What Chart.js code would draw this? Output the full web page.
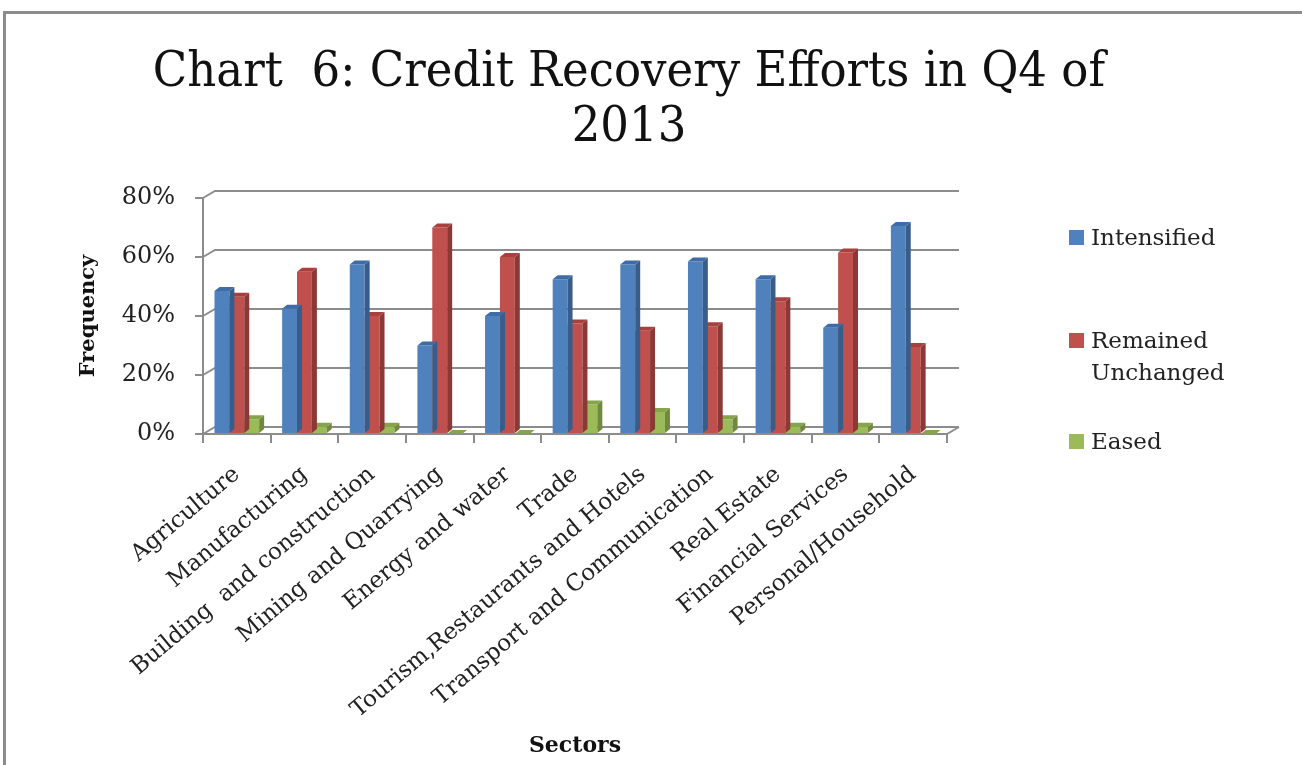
<!DOCTYPE html>
<html>
<head>
<meta charset="utf-8">
<script src="https://cdn.jsdelivr.net/npm/chart.js@4/dist/chart.umd.min.js"></script>
<style>
body { margin: 0; background: #fff; }
#wrap { position: relative; width: 1302px; height: 765px; overflow: hidden; }
#frame { position: absolute; left: 3px; top: 11px; width: 1400px; height: 900px;
  border-top: 3px solid #8c8c8c; border-left: 3px solid #8c8c8c; }
#myChart { position: absolute; left: 0; top: 0; }
#title { position: absolute; left: 629px; top: 42px; white-space: nowrap; text-align: center;
  font-family: "DejaVu Serif", serif; font-size: 48px; line-height: 55px; color: #111; }
.leg { position: absolute; left: 1069px; font-family: "DejaVu Serif", serif; font-size: 23px; color: #222; line-height: 32px; }
.leg span { display: inline-block; width: 15px; height: 15px; margin-right: 7px; vertical-align: 0px; }
</style>
</head>
<body>
<div id="wrap">
  <div id="frame"></div>
  <canvas id="myChart" width="1302" height="765"></canvas>
  <div id="title"><span id="t1">Chart&nbsp; 6: Credit Recovery Efforts in Q4 of</span><br>2013</div>
  <div class="leg" style="top:221px"><span style="background:#4F81BD"></span>Intensified</div>
  <div class="leg" style="top:324px"><span style="background:#C0504D"></span>Remained<br><span style="background:none"></span>Unchanged</div>
  <div class="leg" style="top:425px"><span style="background:#9BBB59"></span>Eased</div>
</div>
<script>
const sectors = [
  'Agriculture',
  'Manufacturing',
  'Building  and construction',
  'Mining and Quarrying',
  'Energy and water',
  'Trade',
  'Tourism,Restaurants and Hotels',
  'Transport and Communication',
  'Real Estate',
  'Financial Services',
  'Personal/Household'
];
const intensified = [48.5, 42.5, 57.5, 30, 40, 52.5, 57.5, 58.5, 52.5, 36, 70.5];
const unchanged = [46.5, 55, 40, 70, 60, 37.5, 35, 36.5, 45, 61.5, 29.5];
const eased = [5, 2.5, 2.5, 0, 0, 10, 7.5, 5, 2.5, 2.5, 0];
const yTicks = [0, 20, 40, 60, 80];

// squeeze the title a bit, the original font is narrower
var t1 = document.getElementById('t1');
var s = 952 / t1.offsetWidth;
document.getElementById('title').style.transform = 'translateX(-50%) scaleX(' + s + ')';

// darker faces for the fake 3d look
const sideColors = ['#385D8A', '#8C3836', '#71893F'];
const topColors = ['#3E6CA6', '#A8413E', '#86A44A'];
const wallDx = 12, wallDy = 7;

const backWall = {
  id: 'backWall',
  beforeDatasetsDraw(chart) {
    const ctx = chart.ctx;
    const a = chart.chartArea;
    const y = chart.scales.y;
    ctx.save();
    ctx.strokeStyle = '#8c8c8c';
    ctx.lineWidth = 2;
    y.ticks.forEach(function(t) {
      const py = y.getPixelForValue(t.value);
      ctx.beginPath();
      ctx.moveTo(a.left, py);
      ctx.lineTo(a.left + wallDx, py - wallDy);
      ctx.lineTo(a.right + wallDx, py - wallDy);
      ctx.stroke();
    });
    ctx.beginPath();
    ctx.moveTo(a.right, a.bottom);
    ctx.lineTo(a.right + wallDx, a.bottom - wallDy);
    ctx.stroke();
    ctx.restore();
  }
};

const bars3d = {
  id: 'bars3d',
  afterDatasetDraw(chart, args) {
    const ctx = chart.ctx;
    const meta = args.meta;
    const i = args.index;
    const dx = 5, dy = 4;
    ctx.save();
    meta.data.forEach(function(bar) {
      const p = bar.getProps(['x', 'y', 'base', 'width'], true);
      const r = p.x + p.width / 2, l = p.x - p.width / 2;
      ctx.fillStyle = sideColors[i];
      ctx.beginPath();
      ctx.moveTo(r, p.y);
      ctx.lineTo(r + dx, p.y - dy);
      ctx.lineTo(r + dx, p.base - dy);
      ctx.lineTo(r, p.base);
      ctx.closePath();
      ctx.fill();
      ctx.fillStyle = topColors[i];
      ctx.beginPath();
      ctx.moveTo(l, p.y);
      ctx.lineTo(l + dx, p.y - dy);
      ctx.lineTo(r + dx, p.y - dy);
      ctx.lineTo(r, p.y);
      ctx.closePath();
      ctx.fill();
    });
    ctx.restore();
  }
};

const data = {
  labels: sectors,
  datasets: [
    { label: 'Intensified', data: intensified, backgroundColor: '#4F81BD' },
    { label: 'Remained Unchanged', data: unchanged, backgroundColor: '#C0504D' },
    { label: 'Eased', data: eased, backgroundColor: '#9BBB59' }
  ]
};

const config = {
  type: 'bar',
  data: data,
  plugins: [backWall, bars3d],
  options: {
    responsive: false,
    animation: false,
    categoryPercentage: 0.66,
    barPercentage: 1,
    layout: { padding: { left: 76, right: 355, top: 198, bottom: 4 } },
    plugins: {
      legend: { display: false },
      tooltip: { enabled: false },
      title: { display: false }
    },
    scales: {
      x: {
        afterFit: function(sc) { sc.height = 327; },
        grid: { offset: true, drawOnChartArea: false, color: '#8c8c8c', lineWidth: 2, tickLength: 9 },
        border: { color: '#8c8c8c', width: 2 },
        ticks: {
          color: '#222', minRotation: 40, maxRotation: 40, autoSkip: false, padding: 18,
          font: { family: 'DejaVu Serif', size: 23 }
        },
        title: {
          display: true, text: 'Sectors', color: '#111',
          font: { family: 'DejaVu Serif', size: 22, weight: 'bold' },
          padding: { top: 0, bottom: 2 }
        }
      },
      y: {
        min: 0, max: 80,
        afterFit: function(sc) { sc.width = 127; },
        afterBuildTicks: function(sc) { sc.ticks = yTicks.map(v => ({ value: v })); },
        grid: { drawOnChartArea: false, color: '#8c8c8c', lineWidth: 2, tickLength: 8 },
        border: { color: '#8c8c8c', width: 2 },
        ticks: {
          color: '#222', padding: 20,
          font: { family: 'DejaVu Serif', size: 24 },
          callback: v => v + '%'
        },
        title: {
          display: true, text: 'Frequency', color: '#111',
          font: { family: 'DejaVu Serif', size: 21, weight: 'bold' },
          padding: 0
        }
      }
    }
  }
};

const myChart = new Chart(document.getElementById('myChart'), config);
</script>
</body>
</html>
